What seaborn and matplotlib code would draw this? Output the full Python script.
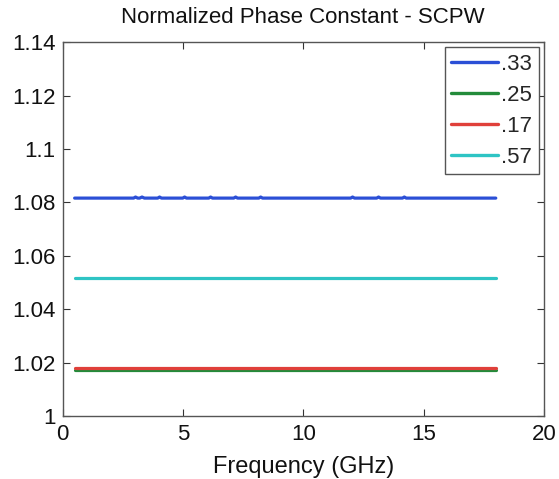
import matplotlib
matplotlib.use("Agg")
import matplotlib.pyplot as plt
import seaborn as sns
import pandas as pd
import numpy as np

# ---- data ----
series_labels = [".33", ".25", ".17", ".57"]
series_colors = ["#2b4fd6", "#238b3a", "#e0403a", "#2ec4c4"]

freq_033 = [0.5, 2.95, 3.03, 3.12, 3.2, 3.3, 3.4, 3.95, 4.03, 4.11, 4.99, 5.07, 5.15,
            6.07, 6.15, 6.23, 7.11, 7.19, 7.27, 8.15, 8.23, 8.31, 11.97, 12.05, 12.13,
            13.05, 13.13, 13.21, 14.12, 14.2, 14.28, 18.0]
beta_033 = [1.0816, 1.0816, 1.0820, 1.0816, 1.0816, 1.0820, 1.0816, 1.0816, 1.0820, 1.0816,
            1.0816, 1.0820, 1.0816, 1.0816, 1.0820, 1.0816, 1.0816, 1.0820, 1.0816,
            1.0816, 1.0820, 1.0816, 1.0816, 1.0820, 1.0816, 1.0816, 1.0820, 1.0816,
            1.0816, 1.0820, 1.0816, 1.0816]
freq_025 = [0.5, 18.0]
beta_025 = [1.0172, 1.0172]
freq_017 = [0.5, 18.0]
beta_017 = [1.0178, 1.0178]
freq_057 = [0.5, 18.0]
beta_057 = [1.0517, 1.0517]

x_ticks = [0, 5, 10, 15, 20]
y_ticks = [1.0, 1.02, 1.04, 1.06, 1.08, 1.1, 1.12, 1.14]

title = "Normalized Phase Constant - SCPW"
x_label = "Frequency (GHz)"

# ---- build long table ----
frames = []
for lab, fx, fy in zip(series_labels,
                       [freq_033, freq_025, freq_017, freq_057],
                       [beta_033, beta_025, beta_017, beta_057]):
    frames.append(pd.DataFrame({"freq": fx, "beta": fy, "ratio": lab}))
df = pd.concat(frames, ignore_index=True)

sns.set_theme(style="white")
plt.rcParams["font.family"] = ["Liberation Sans", "DejaVu Sans"]
plt.rcParams["font.size"] = 16

fig = plt.figure(figsize=(5.59, 4.79), dpi=100)
ax = fig.add_axes([0.112, 0.1315, 0.861, 0.7805])

sns.lineplot(data=df, x="freq", y="beta", hue="ratio", hue_order=series_labels,
             palette=dict(zip(series_labels, series_colors)), estimator=None,
             sort=False, linewidth=2.3, ax=ax)

ax.set_xlim(0, 20)
ax.set_ylim(1.0, 1.14)
ax.set_xticks(x_ticks)
ax.set_yticks(y_ticks)
ax.set_xticklabels([f"{v:g}" for v in x_ticks], fontsize=16)
ax.set_yticklabels([f"{v:g}" for v in y_ticks], fontsize=16)
ax.tick_params(direction="in", length=5, width=0.8, color="#333333",
               top=True, right=True, bottom=True, left=True, labelcolor="#111111")
ax.tick_params(axis="x", pad=6)
ax.tick_params(axis="y", pad=5)
for s in ax.spines.values():
    s.set_visible(True)
    s.set_color("#555555")
    s.set_linewidth(1.0)

ax.set_title(title, fontsize=16, color="#111111", pad=14)
ax.set_xlabel(x_label, fontsize=17, color="#111111", labelpad=8)
ax.set_ylabel("")

leg = ax.legend(loc="upper right", bbox_to_anchor=(0.99, 0.987), frameon=True,
                fancybox=False, framealpha=1, edgecolor="#555555", fontsize=16,
                handlelength=2.1, handletextpad=0.15, labelspacing=0.45,
                borderpad=0.3, borderaxespad=0.0)
leg.get_frame().set_linewidth(1.0)
for line in leg.get_lines():
    line.set_linewidth(2.4)

fig.savefig("out.png", dpi=100)
